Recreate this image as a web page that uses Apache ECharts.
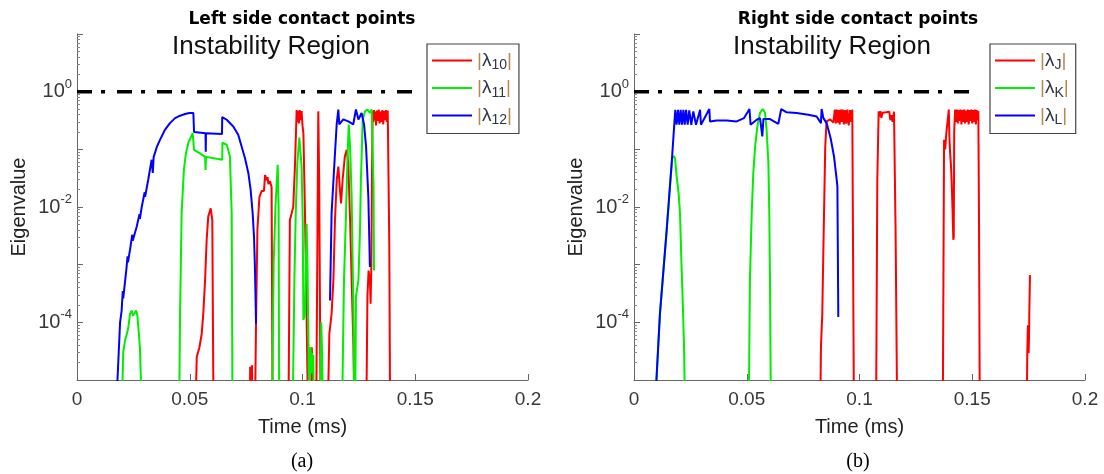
<!DOCTYPE html>
<html>
<head>
<meta charset="utf-8">
<script src="https://cdn.jsdelivr.net/npm/echarts@6/dist/echarts.min.js"></script>
<style>
html, body { margin: 0; padding: 0; background: #fff; }
#chart { width: 1104px; height: 474px; }
</style>
</head>
<body>
<div id="chart"></div>
<script>
// Eigenvalue magnitudes of the contact-point models over time (ms), log scale.
// null splits a curve into separate segments; 1e-6 means the magnitude has
// fallen to zero, i.e. below the floor of the axis.
const timeTicks = [0, 0.05, 0.1, 0.15, 0.2];
const labelledDecades = [-4, -2, 0];
const thresholdT = [0, 0.152];
const thresholdValue = [1, 1];

// ---- left side contact points ----
const lambda10 = [
  [0.0523, 1e-6], [0.0531, 2.5e-5], [0.0543, 3.7e-5], [0.0553, 6.3e-5], [0.0560, 1.4e-4],
  [0.0568, 5.4e-4], [0.0575, 2.7e-3], [0.0582, 6.8e-3], [0.0593, 9.5e-3], [0.0600, 5.9e-3],
  [0.0606, 1e-6],
  null,
  [0.0765, 1e-6], [0.0768, 1.7e-5], [0.0772, 1.2e-5], [0.0776, 1.8e-5], [0.0779, 1e-6],
  null,
  [0.0788, 1e-6], [0.0794, 1.0e-4], [0.0800, 4.0e-3], [0.0809, 1.5e-2], [0.0819, 1.9e-2],
  [0.0829, 1.9e-2], [0.0831, 2.4e-2], [0.0834, 3.6e-2], [0.0841, 2.9e-2], [0.0845, 3.3e-2],
  [0.0849, 2.5e-2], [0.0856, 2.8e-2], [0.0863, 2.2e-2], [0.0868, 1e-6],
  null,
  [0.0937, 1e-6], [0.0944, 5.9e-3], [0.0952, 7.8e-3], [0.0959, 1.0e-2], [0.0967, 5.8e-2],
  [0.0974, 4.8e-1], [0.0977, 3.0e-1], [0.0980, 4.6e-1], [0.0984, 2.8e-1], [0.0987, 4.8e-1],
  [0.0992, 3.2e-1], [0.0996, 4.6e-1], [0.1000, 2.6e-1], [0.1004, 1.9e-1], [0.1011, 7.8e-3],
  [0.1018, 1.4e-4], [0.1026, 1e-6],
  null,
  [0.1038, 1e-6], [0.1041, 3.7e-5], [0.1044, 1.5e-5], [0.1047, 1e-6],
  null,
  [0.1060, 1e-6], [0.1066, 2.0e-3], [0.1070, 4.55e-1], [0.1074, 3.0e-2], [0.1081, 1e-6],
  null,
  [0.1110, 1e-6], [0.1119, 6.3e-5], [0.1129, 1.4e-4], [0.1137, 5.4e-4], [0.1144, 5.9e-3],
  [0.1152, 3.0e-2], [0.1159, 5.0e-2], [0.1166, 2.0e-2], [0.1171, 1.15e-2], [0.1178, 3.0e-2],
  [0.1188, 7.6e-2], [0.1196, 9.8e-2], [0.1203, 5.8e-2], [0.1211, 5.9e-3], [0.1218, 5.4e-4],
  [0.1226, 3.7e-5], [0.1232, 1e-6],
  null,
  [0.1282, 1e-6], [0.1288, 2.8e-4], [0.1293, 7.9e-4], [0.1299, 5.4e-4], [0.1302, 2.1e-4],
  [0.1305, 8.0e-4], [0.1308, 3.0e-2], [0.1311, 4.6e-1], [0.1314, 3.0e-1], [0.1317, 4.8e-1],
  [0.1320, 3.2e-1], [0.1323, 4.5e-1], [0.1326, 2.6e-1], [0.1330, 4.7e-1], [0.1334, 3.1e-1],
  [0.1338, 4.9e-1], [0.1342, 2.8e-1], [0.1346, 4.5e-1], [0.1350, 3.0e-1], [0.1354, 4.8e-1],
  [0.1358, 2.7e-1], [0.1362, 4.6e-1], [0.1366, 3.2e-1], [0.1370, 4.8e-1], [0.1374, 3.0e-1],
  [0.1378, 4.7e-1], [0.1381, 4.4e-1], [0.1385, 2.0e-3], [0.1389, 1e-6]
];

const lambda11 = [
  [0.0196, 1e-6], [0.0205, 3.0e-5], [0.0213, 4.9e-5], [0.0220, 6.0e-5], [0.0228, 8.3e-5],
  [0.0235, 1.4e-4], [0.0242, 1.6e-4], [0.0248, 1.3e-4], [0.0255, 1.4e-4], [0.0262, 1.6e-4],
  [0.0268, 1.3e-4], [0.0279, 3.7e-5], [0.0291, 1e-6],
  null,
  [0.0452, 1e-6], [0.0457, 1.4e-4], [0.0464, 7.8e-3], [0.0474, 4.4e-2], [0.0483, 8.5e-2],
  [0.0494, 1.3e-1], [0.0513, 1.9e-1], [0.0519, 9.8e-2], [0.0545, 8.5e-2], [0.0568, 7.4e-2],
  [0.0570, 4.4e-2], [0.0572, 7.4e-2], [0.0644, 6.6e-2], [0.0645, 1.3e-1], [0.0664, 1.2e-1],
  [0.0678, 7.6e-2], [0.0686, 7.8e-3], [0.0690, 1e-6],
  null,
  [0.0864, 1e-6], [0.0872, 1.0e-3], [0.0880, 1.0e-2], [0.0890, 5.4e-2], [0.0894, 1.0e-2],
  [0.0897, 1e-6],
  null,
  [0.0955, 1e-6], [0.0964, 5.4e-4], [0.0970, 7.8e-3], [0.0977, 5.8e-2], [0.0986, 1.6e-1],
  [0.0990, 1.6e-1], [0.0996, 5.0e-2], [0.1001, 5.9e-3], [0.1004, 1.1e-4], [0.1011, 1.4e-4],
  [0.1018, 5.1e-3], [0.1022, 1.0e-3], [0.1026, 6.0e-5], [0.1030, 1e-6], [0.1033, 2.5e-5],
  [0.1036, 3.7e-5], [0.1039, 1.3e-5], [0.1042, 3.0e-5], [0.1045, 1.5e-5], [0.1048, 2.7e-5],
  [0.1051, 1e-6],
  null,
  [0.1079, 1e-6], [0.1083, 1.0e-4], [0.1087, 3.0e-5], [0.1092, 1e-6],
  null,
  [0.1174, 1e-6], [0.1184, 5.4e-4], [0.1193, 7.8e-3], [0.1199, 5.8e-2], [0.1205, 2.7e-1],
  [0.1211, 1.1e-1], [0.1218, 1.5e-2], [0.1226, 1.4e-4], [0.1230, 1e-6],
  null,
  [0.1233, 1e-6], [0.1237, 2.8e-4], [0.1248, 5.4e-4], [0.1255, 4.0e-3], [0.1259, 2.95e-2],
  [0.1267, 3.26e-1], [0.1277, 4.55e-1], [0.1288, 4.9e-1], [0.1299, 4.3e-1], [0.1307, 4.9e-1],
  [0.1311, 4.6e-1], [0.1315, 2.26e-2], [0.1317, 7.9e-4]
];

const lambda12 = [
  [0.0168, 1e-6], [0.0191, 1.0e-4], [0.0198, 1.6e-4], [0.0203, 3.5e-4], [0.0205, 2.6e-4],
  [0.0220, 9.1e-4], [0.0224, 1.4e-3], [0.0226, 1.1e-3], [0.0235, 1.8e-3], [0.0245, 3.3e-3],
  [0.0247, 2.6e-3], [0.0265, 4.6e-3], [0.0277, 7.5e-3], [0.0279, 6.2e-3], [0.0287, 1.0e-2],
  [0.0300, 1.8e-2], [0.0302, 1.5e-2], [0.0316, 3.0e-2], [0.0331, 6.6e-2], [0.0336, 3.9e-2],
  [0.0340, 7.4e-2], [0.0354, 1.1e-1], [0.0368, 1.46e-1], [0.0390, 2.18e-1], [0.0412, 2.85e-1],
  [0.0435, 3.48e-1], [0.0457, 3.83e-1], [0.0479, 4.09e-1], [0.0498, 4.26e-1], [0.0516, 4.26e-1],
  [0.0519, 2.0e-1], [0.0570, 1.9e-1], [0.0571, 9.1e-2], [0.0572, 1.9e-1], [0.0643, 1.85e-1],
  [0.0644, 3.63e-1], [0.0664, 3.26e-1], [0.0693, 2.49e-1], [0.0715, 1.79e-1], [0.0730, 1.12e-1],
  [0.0745, 7.02e-2], [0.0760, 3.85e-2], [0.0770, 1.98e-2], [0.0779, 7.8e-3], [0.0785, 3.05e-3],
  [0.0789, 9.1e-4], [0.0794, 9.5e-5],
  null,
  [0.1122, 2.4e-4], [0.1129, 7.8e-3], [0.1144, 8.5e-2], [0.1152, 2.85e-1], [0.1159, 4.9e-1],
  [0.1163, 2.7e-1], [0.1181, 3.3e-1], [0.1203, 3.05e-1], [0.1225, 2.7e-1], [0.1237, 4.9e-1],
  [0.1248, 3.3e-1], [0.1262, 4.26e-1], [0.1273, 2.7e-1], [0.1282, 1.1e-1], [0.1292, 1.5e-2],
  [0.1299, 9.1e-4]
];

// ---- right side contact points ----
const lambdaJ = [
  [0.0825, 1e-6], [0.0829, 3.7e-5], [0.0835, 1.4e-4], [0.0840, 2.0e-3], [0.0844, 1.5e-2],
  [0.0848, 1.1e-1], [0.0854, 3.05e-1], [0.0870, 3.3e-1], [0.0884, 2.9e-1], [0.0891, 4.9e-1],
  [0.0895, 2.8e-1], [0.0899, 4.9e-1], [0.0903, 2.9e-1], [0.0908, 4.8e-1], [0.0912, 2.7e-1],
  [0.0917, 4.9e-1], [0.0921, 3.0e-1], [0.0926, 4.9e-1], [0.0931, 2.7e-1], [0.0936, 4.8e-1],
  [0.0941, 2.8e-1], [0.0946, 4.9e-1], [0.0952, 2.6e-1], [0.0958, 4.8e-1], [0.0963, 3.0e-1],
  [0.0968, 4.9e-1], [0.0973, 4.7e-1], [0.0976, 1e-6],
  null,
  [0.1073, 1e-6], [0.1079, 3.0e-2], [0.1085, 4.55e-1], [0.1089, 3.7e-1], [0.1093, 4.6e-1],
  [0.1097, 3.5e-1], [0.1102, 4.3e-1], [0.1110, 4.0e-1], [0.1118, 4.4e-1], [0.1125, 4.2e-1],
  [0.1132, 4.5e-1], [0.1137, 3.2e-1], [0.1142, 3.9e-1], [0.1147, 3.0e-1], [0.1153, 4.5e-1],
  [0.1160, 4.0e-3], [0.1168, 1e-6],
  null,
  [0.1369, 1e-6], [0.1375, 1.46e-1], [0.1380, 1.0e-1], [0.1385, 1.9e-1], [0.1390, 2.9e-1],
  [0.1396, 4.9e-1], [0.1399, 1.5e-1], [0.1402, 8.5e-2], [0.1406, 5.0e-2], [0.1409, 2.6e-2],
  [0.1413, 8.0e-3], [0.1416, 2.7e-3], [0.1418, 3.0e-3], [0.1420, 2.0e-1], [0.1424, 4.9e-1],
  [0.1428, 3.0e-1], [0.1432, 4.9e-1], [0.1436, 2.8e-1], [0.1440, 4.8e-1], [0.1444, 3.1e-1],
  [0.1448, 4.9e-1], [0.1452, 2.7e-1], [0.1456, 4.8e-1], [0.1460, 3.0e-1], [0.1464, 4.9e-1],
  [0.1468, 2.8e-1], [0.1472, 4.7e-1], [0.1476, 3.0e-1], [0.1480, 4.9e-1], [0.1484, 2.7e-1],
  [0.1488, 4.8e-1], [0.1492, 3.1e-1], [0.1496, 4.9e-1], [0.1500, 2.8e-1], [0.1504, 4.8e-1],
  [0.1508, 3.0e-1], [0.1512, 4.9e-1], [0.1516, 2.7e-1], [0.1520, 4.8e-1], [0.1524, 3.2e-1],
  [0.1527, 4.6e-1], [0.1530, 5.0e-3], [0.1534, 1e-6],
  null,
  [0.1741, 1e-6], [0.1744, 2.9e-5], [0.1747, 8.9e-5], [0.1750, 2.9e-5], [0.1752, 6.0e-5],
  [0.1753, 1.4e-4], [0.1756, 6.6e-4], [0.1758, 6.6e-4]
];

const lambdaK = [
  [0.0086, 1e-6], [0.0115, 1.4e-4], [0.0145, 4.0e-3], [0.0163, 3.4e-2], [0.0170, 7.0e-2],
  [0.0176, 7.7e-2], [0.0182, 7.0e-2], [0.0189, 3.4e-2], [0.0198, 1.7e-2], [0.0204, 7.8e-3],
  [0.0210, 1.2e-3], [0.0216, 2.4e-4], [0.0222, 3.7e-5], [0.0228, 1e-6],
  null,
  [0.0508, 1e-6], [0.0514, 5.4e-4], [0.0522, 7.8e-3], [0.0529, 3.9e-2], [0.0537, 1.1e-1],
  [0.0547, 2.5e-1], [0.0559, 4.3e-1], [0.0571, 5.0e-1], [0.0581, 4.3e-1], [0.0588, 2.2e-1],
  [0.0596, 5.8e-2], [0.0600, 7.8e-3], [0.0603, 5.4e-4], [0.0608, 1e-6]
];

const lambdaL = [
  [0.0086, 1e-6], [0.0115, 1.4e-4], [0.0145, 4.0e-3], [0.0167, 5.75e-2], [0.0179, 2.85e-1],
  [0.0183, 4.86e-1], [0.0189, 2.67e-1], [0.0195, 4.86e-1], [0.0201, 2.67e-1], [0.0207, 4.86e-1],
  [0.0213, 2.67e-1], [0.0219, 4.86e-1], [0.0225, 2.67e-1], [0.0231, 4.86e-1], [0.0238, 2.67e-1],
  [0.0245, 4.73e-1], [0.0254, 2.67e-1], [0.0263, 4.55e-1], [0.0275, 2.67e-1], [0.0293, 4.86e-1],
  [0.0297, 2.67e-1], [0.0334, 5.0e-1], [0.0337, 3.05e-1], [0.0367, 3.17e-1], [0.0411, 3.17e-1],
  [0.0455, 3.05e-1], [0.0488, 3.48e-1], [0.0512, 5.0e-1], [0.0517, 2.67e-1], [0.0544, 3.26e-1],
  [0.0559, 3.48e-1], [0.0566, 3.35e-1], [0.0569, 1.67e-1], [0.0574, 3.35e-1], [0.0603, 3.35e-1],
  [0.0640, 2.77e-1], [0.0648, 2.67e-1], [0.0653, 5.0e-1], [0.0677, 4.38e-1], [0.0721, 4.26e-1],
  [0.0773, 3.98e-1], [0.0810, 3.72e-1], [0.0829, 2.85e-1], [0.0832, 5.0e-1], [0.0840, 3.48e-1],
  [0.0854, 2.85e-1], [0.0872, 1.56e-1], [0.0887, 7.5e-2], [0.0899, 2.95e-2], [0.0902, 2.26e-2],
  [0.0906, 1.24e-4]
];

const RED = '#ff0000', GREEN = '#00ee00', BLUE = '#0000ff';
const SANS = '"Liberation Sans", Arial, sans-serif';
const AXIS_GREY = '#666666';
const LABEL_GREY = '#383838';

function toData(pairs) {
  return pairs.map(p => (p === null ? ['-', '-'] : p));
}

function curve(name, pairs, color, idx) {
  return {
    name: name, type: 'line', xAxisIndex: idx, yAxisIndex: idx,
    data: toData(pairs), symbol: 'none', showSymbol: false,
    connectNulls: false, clip: true, silent: true, z: 3,
    lineStyle: { color: color, width: 2 }, itemStyle: { color: color }
  };
}

function threshold(idx) {
  return {
    name: 'threshold', type: 'line', xAxisIndex: idx, yAxisIndex: idx,
    data: thresholdT.map((t, i) => [t, thresholdValue[i]]),
    symbol: 'none', silent: true, z: 2,
    lineStyle: { color: '#000', width: 3.5, type: [15, 9, 4, 12] }
  };
}

function xAxisFor(idx) {
  return {
    type: 'value', gridIndex: idx,
    min: timeTicks[0], max: timeTicks[timeTicks.length - 1],
    interval: timeTicks[1] - timeTicks[0],
    axisLine: { show: true, lineStyle: { color: AXIS_GREY, width: 1 } },
    axisTick: { show: true, inside: true, length: 6, lineStyle: { color: AXIS_GREY } },
    splitLine: { show: false },
    axisLabel: {
      fontFamily: SANS, fontSize: 19, color: LABEL_GREY, margin: 10,
      formatter: v => String(+v.toFixed(3))
    },
    name: 'Time (ms)', nameLocation: 'middle', nameGap: 37,
    nameTextStyle: { fontFamily: SANS, fontSize: 20, color: '#222' }
  };
}

function yAxisFor(idx) {
  return {
    type: 'log', logBase: 10, gridIndex: idx, min: 1e-5, max: 10,
    axisLine: { show: true, lineStyle: { color: AXIS_GREY, width: 1 } },
    axisTick: { show: true, inside: true, length: 6, lineStyle: { color: AXIS_GREY } },
    minorTick: { show: true, splitNumber: 9, length: 3, lineStyle: { color: '#888' } },
    splitLine: { show: false },
    minorSplitLine: { show: false },
    axisLabel: {
      margin: 5,
      formatter: v => {
        const lg = Math.log10(v);
        const e = Math.round(lg);
        if (Math.abs(lg - e) > 1e-6 || labelledDecades.indexOf(e) < 0) return '';
        return '{b|10}{sup|' + e + '}';
      },
      rich: {
        b: { fontFamily: SANS, fontSize: 20, color: LABEL_GREY, lineHeight: 28 },
        sup: { fontFamily: SANS, fontSize: 13, color: LABEL_GREY, lineHeight: 15, verticalAlign: 'top' }
      }
    },
    name: 'Eigenvalue', nameLocation: 'middle', nameGap: 48,
    nameTextStyle: { fontFamily: SANS, fontSize: 20, color: '#222' }
  };
}

function legendFor(names, left) {
  return {
    data: names, left: left, top: 44, orient: 'vertical',
    icon: 'rect', itemWidth: 40, itemHeight: 2, itemGap: 6,
    padding: [7, 7, 6, 5],
    borderColor: '#444', borderWidth: 1.2, backgroundColor: '#fff',
    selectedMode: false,
    formatter: name => '{bar||}{l|λ}{s|' + name.slice(1) + '}{bar||}',
    textStyle: {
      rich: {
        bar: { fontFamily: SANS, fontSize: 19, color: '#b58a4f', lineHeight: 24 },
        l: { fontFamily: SANS, fontSize: 19, color: '#2d3548', lineHeight: 24 },
        s: { fontFamily: SANS, fontSize: 14, color: '#2d3548', lineHeight: 12, verticalAlign: 'bottom' }
      }
    }
  };
}

function label(text, x, y, font, color) {
  return {
    type: 'text', x: x, y: y, silent: true,
    style: { text: text, font: font, fill: color || '#000', align: 'center', verticalAlign: 'middle' }
  };
}

const chart = echarts.init(document.getElementById('chart'), null, { renderer: 'canvas' });
chart.setOption({
  animation: false,
  backgroundColor: '#fff',
  grid: [
    { left: 77, top: 34, width: 451, height: 346 },
    { left: 634, top: 34, width: 451, height: 346 }
  ],
  xAxis: [xAxisFor(0), xAxisFor(1)],
  yAxis: [yAxisFor(0), yAxisFor(1)],
  legend: [
    legendFor(['λ10', 'λ11', 'λ12'], 427),
    legendFor(['λJ', 'λK', 'λL'], 990)
  ],
  graphic: [
    label('Left side contact points', 302, 20, 'bold 17px "DejaVu Sans", sans-serif'),
    label('Right side contact points', 858, 20, 'bold 17px "DejaVu Sans", sans-serif'),
    label('Instability Region', 271, 47, '26px ' + SANS, '#111'),
    label('Instability Region', 832, 47, '26px ' + SANS, '#111'),
    label('(a)', 302, 462, '20px "Liberation Serif", "Times New Roman", serif'),
    label('(b)', 858, 462, '20px "Liberation Serif", "Times New Roman", serif')
  ],
  series: [
    threshold(0),
    curve('λ10', lambda10, RED, 0),
    curve('λ11', lambda11, GREEN, 0),
    curve('λ12', lambda12, BLUE, 0),
    threshold(1),
    curve('λJ', lambdaJ, RED, 1),
    curve('λK', lambdaK, GREEN, 1),
    curve('λL', lambdaL, BLUE, 1)
  ]
});
</script>
</body>
</html>
